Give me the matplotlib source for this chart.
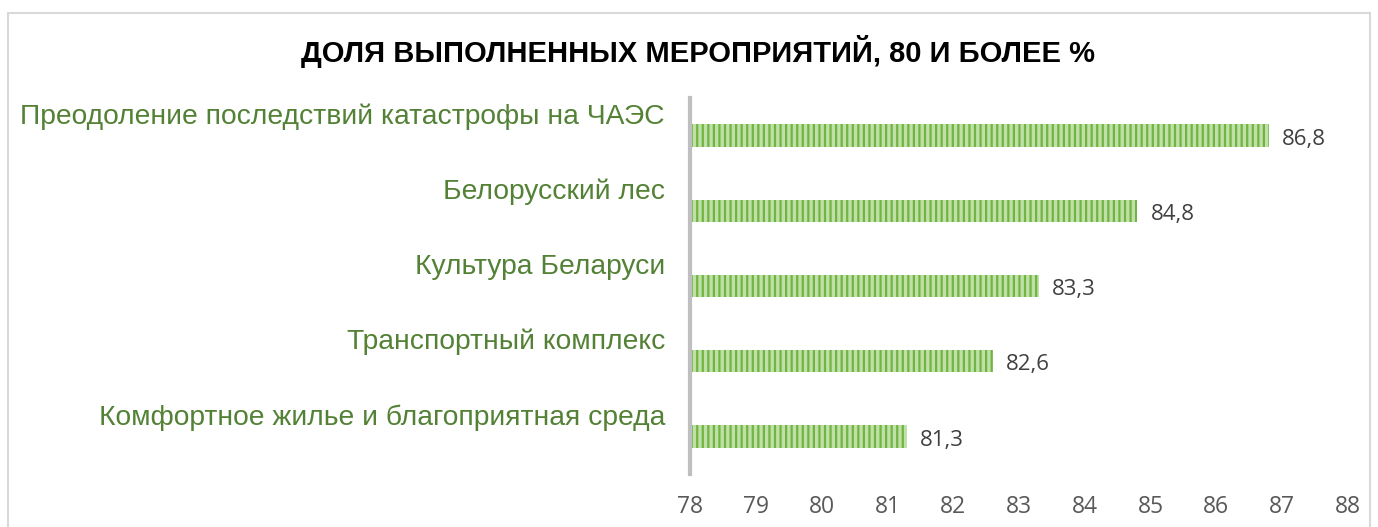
"""Horizontal bar chart: share of completed measures"""

import matplotlib.pyplot as plt
from matplotlib.patches import Rectangle
import matplotlib.transforms as mtransforms

plt.rcParams['font.family'] = ['Liberation Sans', 'DejaVu Sans']
plt.rcParams['hatch.linewidth'] = 1.6

# data, top to bottom
programs = ['Преодоление последствий катастрофы на ЧАЭС',
            'Белорусский лес',
            'Культура Беларуси',
            'Транспортный комплекс',
            'Комфортное жилье и благоприятная среда']
shares = [86.8, 84.8, 83.3, 82.6, 81.3]
x_ticks = [78, 79, 80, 81, 82, 83, 84, 85, 86, 87, 88]
base = 78


def main():
    fig = plt.figure(figsize=(13.78, 5.27), dpi=100)

    # light frame round the chart
    fig.patches.append(Rectangle((8 / 1378, -0.05), 1362 / 1378, 1.05 - 13 / 527,
                                 transform=fig.transFigure, fill=False,
                                 edgecolor='#d9d9d9', linewidth=1.5))

    ax = fig.add_axes([690 / 1378, 1 - 474 / 527, 658 / 1378, 376 / 527])

    ypos = list(range(len(programs)))[::-1]
    widths = [s - base for s in shares]
    ax.barh(ypos, widths, left=base, height=0.3, color='#bfe0a6',
            edgecolor='#72b443', hatch='|||', linewidth=0)

    # value labels
    for y, s in zip(ypos, shares):
        ax.text(s + 0.2, y - 0.05, f'{s:.1f}'.replace('.', ','), va='center',
                ha='left', fontsize=16, color='#404040', family='Open Sans')

    # category labels, sitting a bit above each bar
    trans = mtransforms.blended_transform_factory(ax.transAxes, ax.transData)
    offset = mtransforms.ScaledTranslation(0, 19 / 100, fig.dpi_scale_trans)
    for y, name in zip(ypos, programs):
        ax.text(-25 / 658, y, name, transform=trans + offset,
                ha='right', va='center', fontsize=20.3, color='#538135')

    ax.set_xlim(78, 88)
    ax.set_ylim(-0.5, 4.5)
    ax.set_xticks(x_ticks)
    ax.set_xticklabels([str(t) for t in x_ticks], fontsize=16.5, color='#595959',
                       family='Open Sans')
    ax.tick_params(axis='x', length=0, pad=15)
    ax.set_yticks([])
    for side in ['top', 'right', 'bottom']:
        ax.spines[side].set_visible(False)
    ax.spines['left'].set_color('#bfbfbf')
    ax.spines['left'].set_linewidth(3)

    fig.text(698 / 1378, 1 - 52 / 527, 'ДОЛЯ ВЫПОЛНЕННЫХ МЕРОПРИЯТИЙ, 80 И БОЛЕЕ %',
             ha='center', va='center', fontsize=21, fontweight='bold')

    fig.savefig('out.png', dpi=100)


if __name__ == "__main__":
    main()
